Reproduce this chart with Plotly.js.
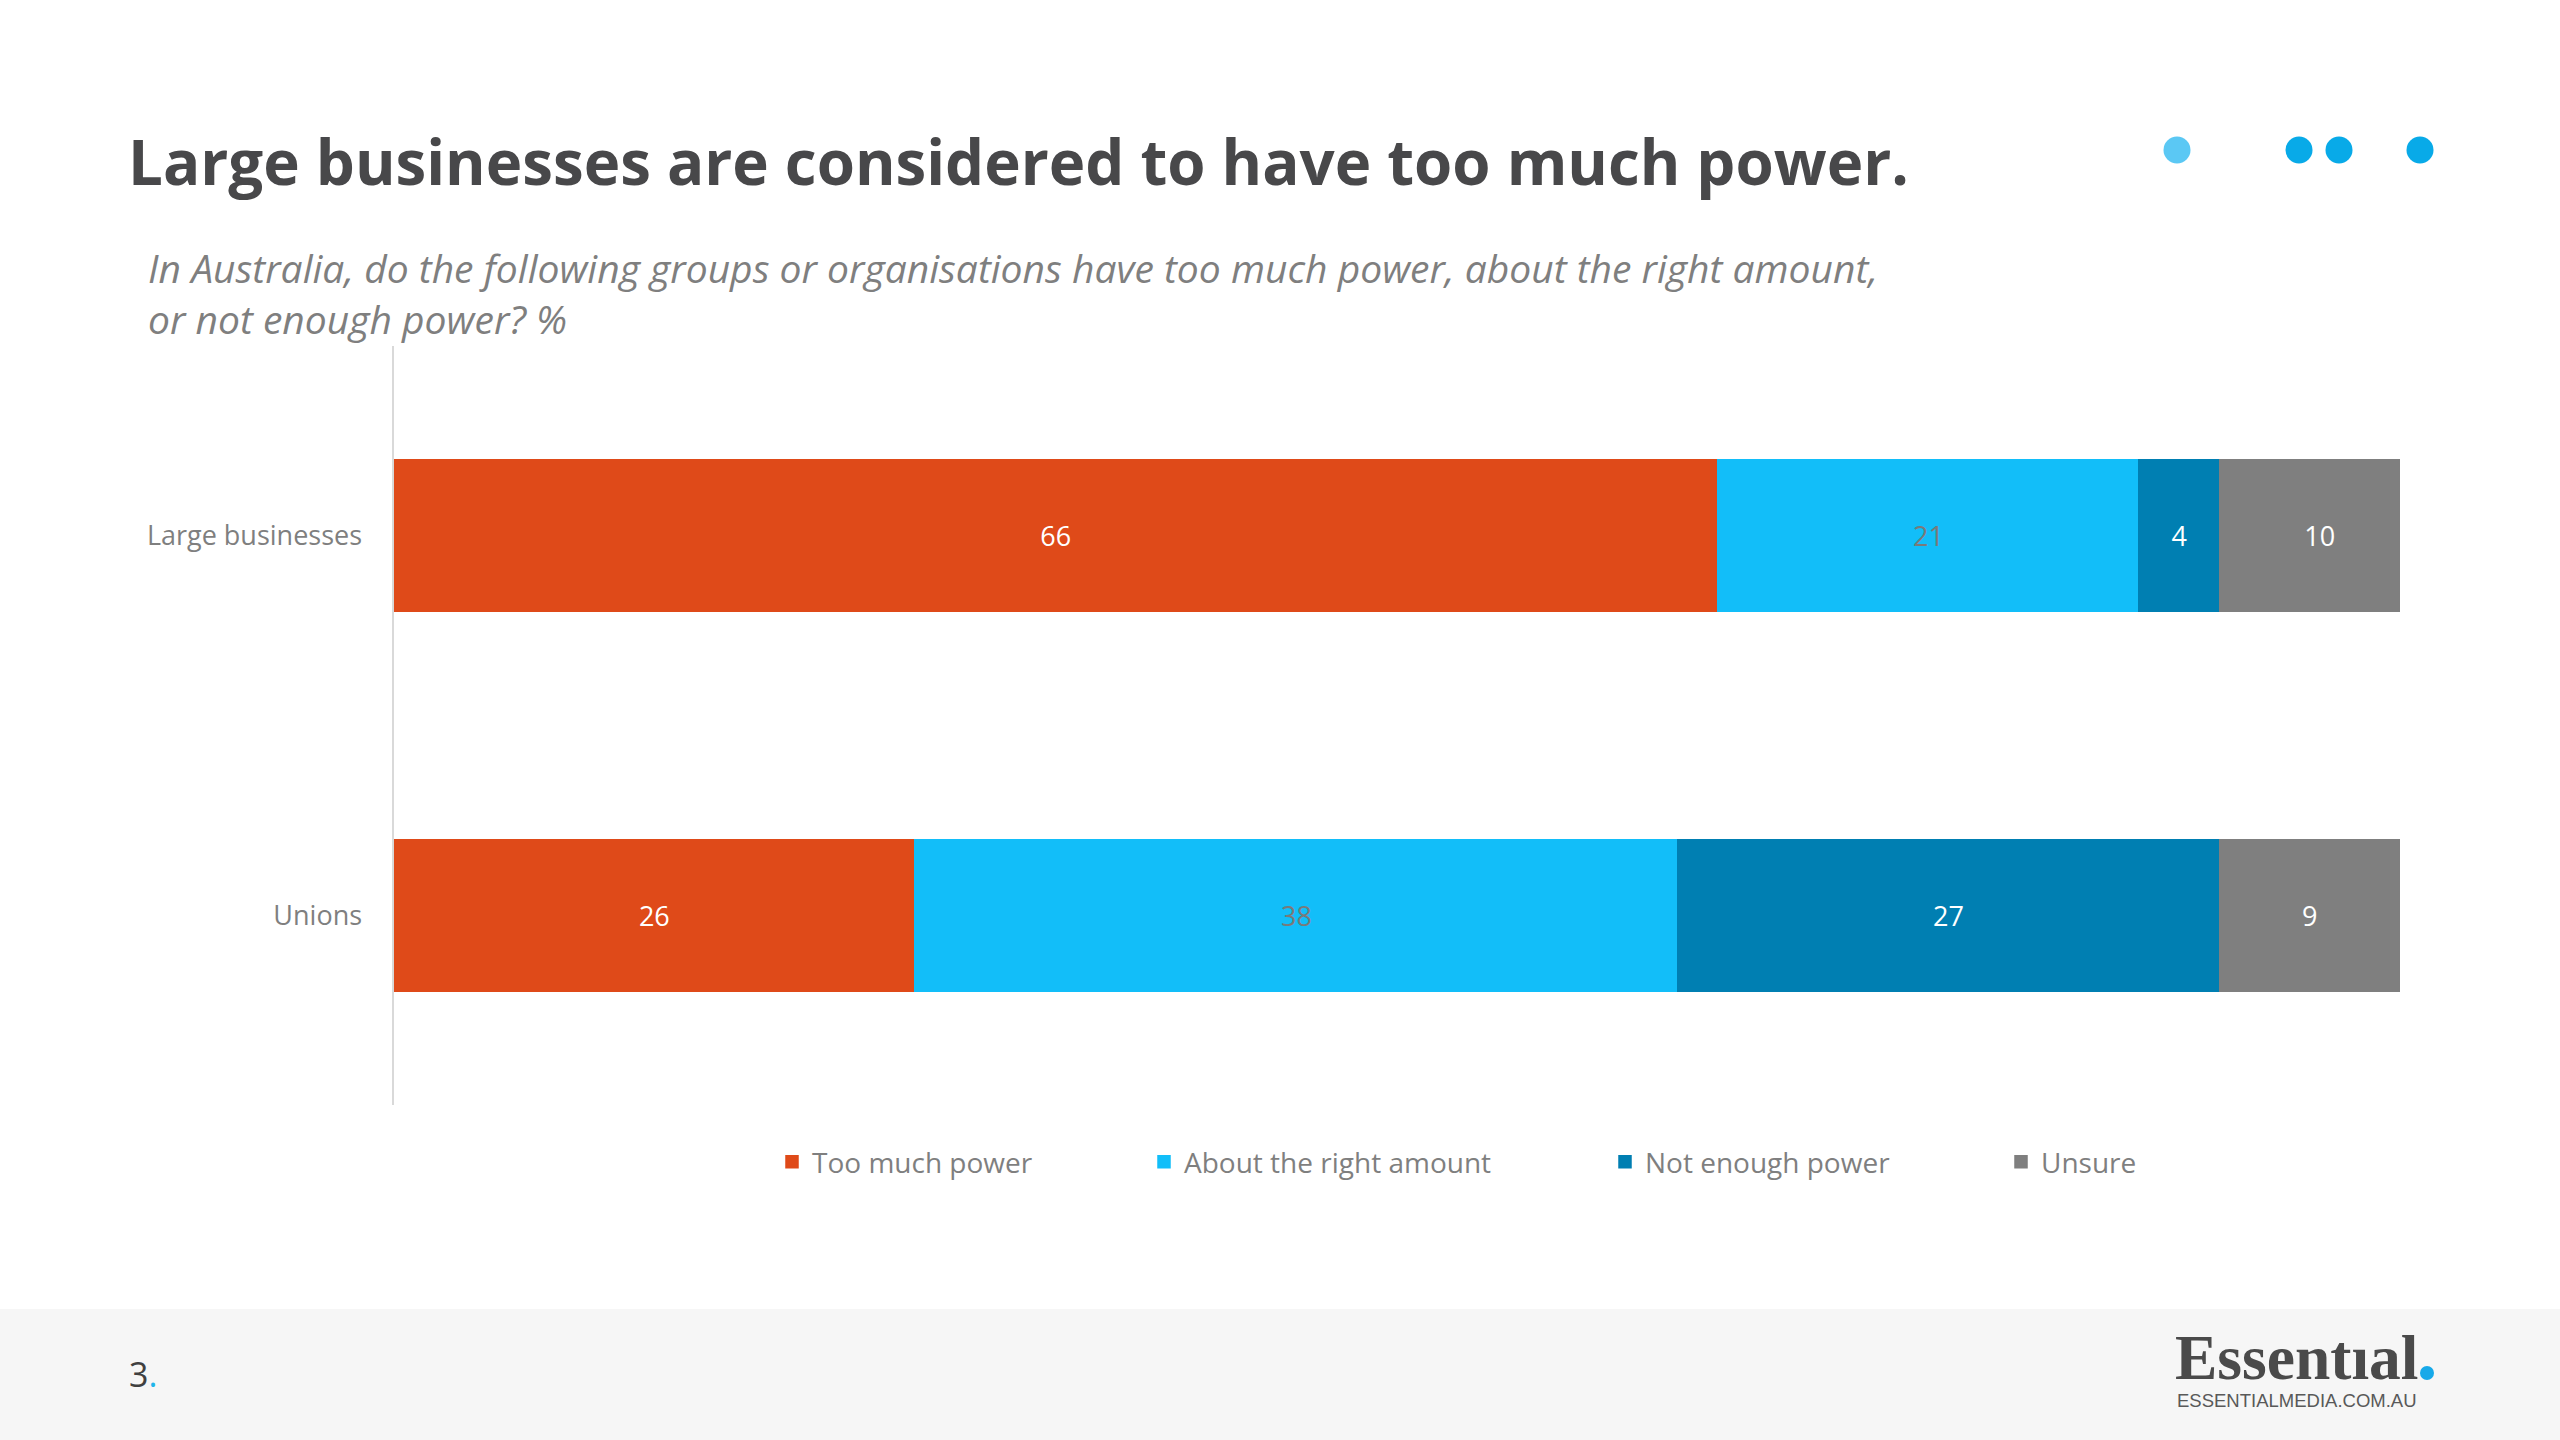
<!DOCTYPE html>
<html>
<head>
<meta charset="utf-8">
<script src="https://cdn.plot.ly/plotly-3.0.1.min.js"></script>
<style>
  html, body { margin: 0; padding: 0; background: #ffffff; }
  #chart { width: 2560px; height: 1440px; }
</style>
</head>
<body>
<div id="chart"></div>
<script>
// Survey results, % of respondents
const categories = ['Large businesses', 'Unions'];
const tooMuchPower = [66, 26];
const rightAmount = [21, 38];
const notEnoughPower = [4, 27];
const unsure = [10, 9];

const seriesNames = ['Too much power', 'About the right amount', 'Not enough power', 'Unsure'];
const seriesValues = [tooMuchPower, rightAmount, notEnoughPower, unsure];
const seriesColors = ['#DF4A19', '#12BEF9', '#007FB2', '#7F7F7F'];
const labelColors = ['#FFFFFF', '#7A7A7A', '#FFFFFF', '#FFFFFF'];
const legendIds = ['legend', 'legend2', 'legend3', 'legend4'];

const titleText = 'Large businesses are considered to have too much power.';
const subtitleLines = [
  'In Australia, do the following groups or organisations have too much power, about the right amount,',
  'or not enough power? %'
];

const W = 2560, H = 1440;
const px = x => x / W;
const py = y => 1 - y / H;

const traces = seriesNames.map((name, i) => ({
  type: 'bar',
  orientation: 'h',
  name: name,
  y: categories,
  x: seriesValues[i],
  marker: { color: seriesColors[i], line: { color: seriesColors[i], width: 1.5 } },
  texttemplate: '%{x}',
  textposition: 'inside',
  insidetextanchor: 'middle',
  textangle: 0,
  constraintext: 'none',
  textfont: { family: 'Open Sans', size: 27, color: labelColors[i] },
  hoverinfo: 'skip',
  legend: legendIds[i]
}));

// left edge of each legend entry
const legendX = [772, 1144, 1605, 2001];
const legendFont = { family: 'Open Sans', size: 28, color: '#7F7F7F' };
const legends = {};
legendIds.forEach((id, i) => {
  legends[id] = {
    x: px(legendX[i]), y: py(1162), xanchor: 'left', yanchor: 'middle',
    orientation: 'h', font: legendFont, bgcolor: 'rgba(0,0,0,0)', borderwidth: 0
  };
});

const dot = (cx, cy, r, color) => ({
  type: 'circle', xref: 'paper', yref: 'paper',
  x0: px(cx - r), x1: px(cx + r), y0: py(cy + r), y1: py(cy - r),
  fillcolor: color, line: { width: 0 }, layer: 'above'
});

const layout = Object.assign({
  width: W,
  height: H,
  margin: { l: 0, r: 0, t: 0, b: 0 },
  paper_bgcolor: '#FFFFFF',
  plot_bgcolor: '#FFFFFF',
  barmode: 'stack',
  bargap: 0.6,
  showlegend: true,
  title: {
    text: titleText,
    font: { family: 'Open Sans', size: 61.8, color: '#48484A', weight: 700 },
    x: px(128), xref: 'container', xanchor: 'left',
    y: py(163), yref: 'container', yanchor: 'middle',
    pad: { t: 0, b: 0, l: 0, r: 0 }
  },
  xaxis: {
    domain: [px(393.5), px(2400)],
    range: [0, 100],
    visible: false,
    fixedrange: true
  },
  yaxis: {
    domain: [py(1105), py(346)],
    type: 'category',
    categoryorder: 'array',
    categoryarray: categories,
    range: [1.5, -0.5],
    showline: true,
    linecolor: '#D9D9D9',
    linewidth: 2,
    showgrid: false,
    zeroline: false,
    ticks: '',
    ticklabelstandoff: 24,
    tickfont: { family: 'Open Sans', size: 27, color: '#7F7F7F' },
    automargin: false,
    fixedrange: true
  },
  shapes: [
    // footer band
    { type: 'rect', xref: 'paper', yref: 'paper', x0: 0, x1: 1, y0: 0, y1: py(1309),
      fillcolor: '#F6F6F6', line: { width: 0 }, layer: 'below' },
    // header dots
    dot(2177, 150, 13.5, '#5BC8F4'),
    dot(2299, 150, 13.5, '#08AAE8'),
    dot(2339, 150, 13.5, '#08AAE8'),
    dot(2420, 150, 13.5, '#08AAE8'),
    // logo full stop
    dot(2427, 1373, 7, '#17A9E9')
  ],
  annotations: [
    { text: subtitleLines[0], xref: 'paper', yref: 'paper', x: px(146), y: py(267),
      xanchor: 'left', yanchor: 'middle', showarrow: false, align: 'left',
      font: { family: 'Open Sans', size: 39, style: 'italic', color: '#7F7F7F' } },
    { text: subtitleLines[1], xref: 'paper', yref: 'paper', x: px(146), y: py(318),
      xanchor: 'left', yanchor: 'middle', showarrow: false, align: 'left',
      font: { family: 'Open Sans', size: 39, style: 'italic', color: '#7F7F7F' } },
    { text: '3<span style="color:#1FB5EA">.</span>', xref: 'paper', yref: 'paper',
      x: px(127), y: py(1374), xanchor: 'left', yanchor: 'middle', showarrow: false,
      font: { family: 'Open Sans', size: 34, color: '#404040' } },
    { text: 'Essent\u0131al', xref: 'paper', yref: 'paper',
      x: px(2173), y: py(1357), xanchor: 'left', yanchor: 'middle', showarrow: false,
      font: { family: 'Liberation Serif', size: 63.5, color: '#4A4A4A', weight: 700 } },
    { text: 'ESSENTIALMEDIA.COM.AU', xref: 'paper', yref: 'paper',
      x: px(2175), y: py(1400), xanchor: 'left', yanchor: 'middle', showarrow: false,
      font: { family: 'Liberation Sans', size: 18.5, color: '#595959' } }
  ]
}, legends);

Plotly.newPlot('chart', traces, layout, { displayModeBar: false, staticPlot: true });
</script>
</body>
</html>
